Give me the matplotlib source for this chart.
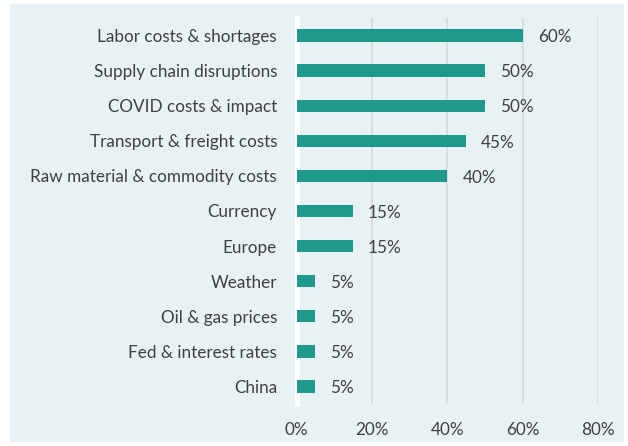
import matplotlib
matplotlib.use('Agg')
import matplotlib.pyplot as plt
from matplotlib.patches import Rectangle
from matplotlib.ticker import PercentFormatter

categories = ["Labor costs & shortages", "Supply chain disruptions", "COVID costs & impact",
              "Transport & freight costs", "Raw material & commodity costs", "Currency",
              "Europe", "Weather", "Oil & gas prices", "Fed & interest rates", "China"]
values = [60, 50, 50, 45, 40, 15, 15, 5, 5, 5, 5]
ticks = [0, 20, 40, 60, 80]

bg = "#e8f1f3"
bar_color = "#1f9a8a"
text_color = "#404040"
fs = 12.3
plt.rcParams['font.family'] = ['Lato', 'DejaVu Sans']

fig = plt.figure(figsize=(6.28, 4.46), dpi=100, facecolor="white")
fig.patches.append(Rectangle((10 / 628, 4 / 446), 614 / 628, 438 / 446,
                             transform=fig.transFigure, facecolor=bg, edgecolor="none", zorder=-1))

ax = fig.add_axes([296.5 / 628, 1 - 404 / 446, (598 - 296.5) / 628, 386 / 446])
ax.set_facecolor("none")

ypos = list(range(len(categories)))
ax.barh(ypos, values, height=0.35, color=bar_color, zorder=3)
for y, v in zip(ypos, values):
    ax.text(v + 4, y + 0.05, f"{v}%", va="center", ha="left", fontsize=fs, color=text_color)

ax.set_xlim(0, 80)
ax.set_ylim(len(categories) - 0.5, -0.5)
ax.set_yticks(ypos)
ax.set_yticklabels(categories, fontsize=fs, color=text_color)
ax.set_xticks(ticks)
ax.xaxis.set_major_formatter(PercentFormatter(decimals=0))
ax.tick_params(axis='x', labelsize=fs, colors=text_color, length=0, pad=13)
ax.tick_params(axis='y', length=0, pad=14)
ax.grid(axis='x', color="#d9d9d9", linewidth=1.2, zorder=0)
for s in ["top", "right", "bottom"]:
    ax.spines[s].set_visible(False)
ax.spines["left"].set_color("white")
ax.spines["left"].set_linewidth(3.5)
ax.spines["left"].set_zorder(2)

fig.savefig("out.png", dpi=100, facecolor="white")
